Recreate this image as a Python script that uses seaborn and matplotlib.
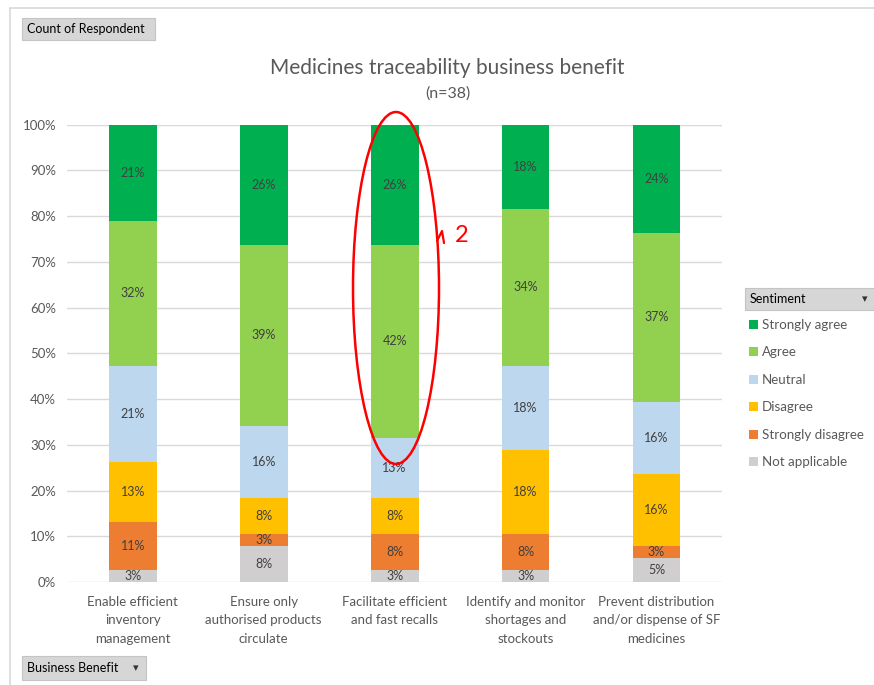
import numpy as np
import pandas as pd
import matplotlib
matplotlib.use('Agg')
import matplotlib.pyplot as plt
from matplotlib.patches import Rectangle, Ellipse
import seaborn as sns

sns.set_theme(style='white')
plt.rcParams['font.family'] = ['Lato', 'DejaVu Sans']

# counts of respondents (n=38) per business benefit
benefits = ['Enable efficient\ninventory\nmanagement',
            'Ensure only\nauthorised products\ncirculate',
            'Facilitate efficient\nand fast recalls',
            'Identify and monitor\nshortages and\nstockouts',
            'Prevent distribution\nand/or dispense of SF\nmedicines']
not_applicable = [1, 3, 1, 1, 2]
strongly_disagree = [4, 1, 3, 3, 1]
disagree = [5, 3, 3, 7, 6]
neutral = [8, 6, 5, 7, 6]
agree = [12, 15, 16, 13, 14]
strongly_agree = [8, 10, 10, 7, 9]
n_resp = 38

sentiments = ['Not applicable', 'Strongly disagree', 'Disagree', 'Neutral', 'Agree', 'Strongly agree']
colors = ['#D0CECE', '#ED7D31', '#FFC000', '#BDD7EE', '#92D050', '#00B050']

counts = pd.DataFrame({'Not applicable': not_applicable,
                       'Strongly disagree': strongly_disagree,
                       'Disagree': disagree,
                       'Neutral': neutral,
                       'Agree': agree,
                       'Strongly agree': strongly_agree}, index=benefits)
pct = counts / n_resp * 100
cum = pct.cumsum(axis=1)

fig = plt.figure(figsize=(8.74, 6.85), dpi=100)
ax = fig.add_axes([0.077, 0.150, 0.749, 0.668])

# stacked bars: draw the cumulative totals, tallest first
for s, c in zip(sentiments[::-1], colors[::-1]):
    sns.barplot(x=benefits, y=cum[s].values, color=c, saturation=1, width=0.365,
                ax=ax, zorder=3, linewidth=0)

# data labels
for i, b in enumerate(benefits):
    for s in sentiments:
        mid = cum.loc[b, s] - pct.loc[b, s] / 2
        ax.text(i, mid, f'{pct.loc[b, s]:.0f}%', ha='center', va='center',
                fontsize=9, color='#404040', zorder=4)

ax.set_ylim(0, 100)
ax.set_xlim(-0.5, 4.5)
ax.set_yticks(np.arange(0, 101, 10))
ax.set_yticklabels([f'{v}%' for v in range(0, 101, 10)], fontsize=9.5, color='#595959')
ax.set_xticklabels(benefits, fontsize=9.5, color='#595959', linespacing=1.62)
ax.tick_params(axis='x', length=0, pad=10)
ax.tick_params(axis='y', length=0, pad=8)
ax.yaxis.grid(True, color='#D9D9D9', linewidth=1, zorder=0)
ax.set_axisbelow(True)
for sp in ax.spines.values():
    sp.set_visible(False)
ax.set_xlabel('')
ax.set_ylabel('')

# titles
fig.text(0.512, 0.900, 'Medicines traceability business benefit', ha='center',
         va='center', fontsize=15, color='#595959')
fig.text(0.512, 0.864, '(n=38)', ha='center', va='center', fontsize=11.5, color='#595959')

# outer chart frame
fig.add_artist(plt.Line2D([0.012, 0.012], [0, 0.988], color='#D9D9D9', lw=1.2))
fig.add_artist(plt.Line2D([0.012, 1], [0.988, 0.988], color='#D9D9D9', lw=1.2))


def pivot_button(x0, y0, w, h, label, arrow=False):
    fig.add_artist(Rectangle((x0 / 874, 1 - (y0 + h) / 685), w / 874, h / 685,
                             transform=fig.transFigure, facecolor='#D6D6D6',
                             edgecolor='#C4C4C4', lw=0.8))
    fig.text((x0 + 5) / 874, 1 - (y0 + h / 2) / 685, label, ha='left', va='center',
             fontsize=9, color='#000000')
    if arrow:
        fig.text((x0 + w - 10) / 874, 1 - (y0 + h / 2) / 685, '\u25BE', ha='center',
                 va='center', fontsize=8, color='#333333', family=['DejaVu Sans'])


pivot_button(22, 18, 133, 22, 'Count of Respondent')
pivot_button(22, 656, 124, 24, 'Business Benefit', arrow=True)
pivot_button(745, 288, 130, 22, 'Sentiment', arrow=True)

# legend (Strongly agree at top)
leg_y = [325, 352, 380, 407, 435, 462]
for yy, s, c in zip(leg_y, sentiments[::-1], colors[::-1]):
    fig.add_artist(Rectangle((749 / 874, 1 - (yy + 4) / 685), 9 / 874, 9 / 685,
                             transform=fig.transFigure, facecolor=c, lw=0))
    fig.text(762 / 874, 1 - yy / 685, s, ha='left', va='center', fontsize=9.6,
             color='#595959')

# red hand-drawn highlight
fig.add_artist(Ellipse((396 / 874, 1 - 288 / 685), 86 / 874, 352 / 685,
                       transform=fig.transFigure, fill=False, edgecolor='#FF0000', lw=1.8))
fig.add_artist(plt.Line2D([437 / 874, 442 / 874, 444 / 874],
                          [1 - 241 / 685, 1 - 231 / 685, 1 - 243 / 685],
                          color='#FF0000', lw=1.6))
fig.text(462 / 874, 1 - 235 / 685, '2', ha='center', va='center', fontsize=17,
         color='#FF0000')

fig.savefig('out.png', dpi=100)
